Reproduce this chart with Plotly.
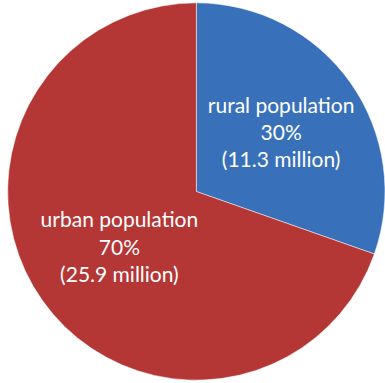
import plotly.graph_objects as go

# Population split (millions)
labels = ["rural population", "urban population"]
values = [11.3, 25.9]
colors = ["#3871ba", "#b43635"]

fig = go.Figure(
    go.Pie(
        labels=labels,
        values=values,
        sort=False,
        direction="clockwise",
        rotation=0,
        marker=dict(colors=colors, line=dict(color="white", width=0.5)),
        texttemplate="%{label}<br>%{percent:.0%}<br>(%{value} million)",
        textposition="inside",
        insidetextorientation="horizontal",
        textfont=dict(family="Lato", size=21, color="white"),
        hoverinfo="label+value+percent",
        domain=dict(x=[0.02, 1.0], y=[0.0, 1.0]),
    )
)

fig.update_layout(
    width=385,
    height=383,
    margin=dict(l=0, r=0, t=0, b=0),
    showlegend=False,
    paper_bgcolor="white",
    uniformtext=dict(minsize=21, mode="show"),
)

fig.write_html("out.html")
